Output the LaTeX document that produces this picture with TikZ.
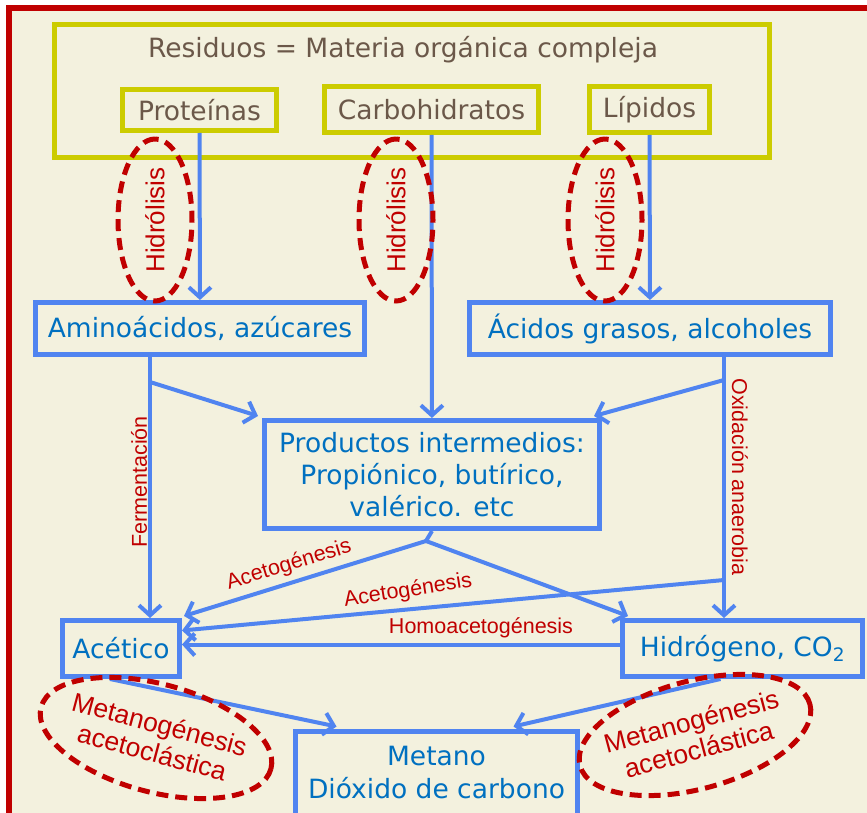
\documentclass[tikz,border=0pt]{standalone}
\usepackage{fontspec}
\setmainfont{DejaVu Sans}
\newfontfamily\labelfont{Liberation Sans}
\usetikzlibrary{arrows.meta,shapes.geometric}
\definecolor{fondo}{HTML}{F3F1DE}
\definecolor{marco}{HTML}{C00000}
\definecolor{oliva}{HTML}{CCCC00}
\definecolor{marron}{HTML}{6B5849}
\definecolor{azul}{HTML}{5084F0}
\definecolor{azultexto}{HTML}{0070C0}
\definecolor{rojo}{HTML}{C00000}
\tikzset{
  olivebox/.style={draw=oliva,line width=5pt,inner sep=0pt,text=marron,font=\fontsize{26.5}{30}\selectfont},
  procbox/.style={draw=azul,line width=5pt,inner sep=0pt,text=azultexto,align=center,font=\fontsize{26.5}{32}\selectfont},
  flow/.style={draw=azul,line width=4pt,-{Straight Barb[length=10pt,width=22pt,line width=4pt]}},
  phase/.style={text=rojo,font=\labelfont\fontsize{21.5}{24}\selectfont,inner sep=0pt},
  hidro/.style={ellipse,draw=rojo,line width=5pt,dash pattern=on 12pt off 7pt,text=rojo,
    font=\labelfont\fontsize{26}{30}\selectfont,inner sep=0pt,minimum width=162pt,minimum height=74pt,rotate=90},
  metano/.style={ellipse,draw=rojo,line width=5pt,dash pattern=on 12pt off 7pt,text=rojo,align=center,
    font=\labelfont\fontsize{26.5}{29}\selectfont,inner xsep=-16pt,inner ysep=-4pt,minimum width=238pt,minimum height=108pt}
}
\begin{document}
\begin{tikzpicture}[x=1pt,y=-1pt]
  \useasboundingbox (0,0) rectangle (867,813);
  \clip (0,0) rectangle (867,813);
  \fill[white] (0,0) rectangle (867,813);
  \fill[fondo] (9,8) rectangle (900,900);
  \draw[marco,line width=6pt] (9,8) rectangle (900,900);
  % residuos
  \node[olivebox,minimum width=715pt,minimum height=133pt] (res) at (412,91) {};
  \node[text=marron,font=\fontsize{26.5}{30}\selectfont] (restit) at (403,50) {Residuos = Materia orgánica compleja};
  \node[olivebox,minimum width=154pt,minimum height=41pt] (prot) at (199.5,110) {Proteínas};
  \node[olivebox,minimum width=214pt,minimum height=46pt] (carbo) at (431.5,109.5) {Carbohidratos};
  \node[olivebox,minimum width=120pt,minimum height=46pt] (lip) at (649.5,109.5) {Lípidos};
  % productos
  \node[procbox,minimum width=329pt,minimum height=52pt] (amino) at (200,328.5) {Aminoácidos, azúcares};
  \node[procbox,minimum width=361pt,minimum height=52pt] (acid) at (650,328.5) {Ácidos grasos, alcoholes};
  \node[procbox,minimum width=335pt,minimum height=108pt] (prod) at (432,474.5) {Productos intermedios:\\Propiónico, butírico,\\valérico. etc};
  \node[procbox,minimum width=117pt,minimum height=56pt] (acet) at (121,648.5) {Acético};
  \node[procbox,minimum width=240pt,minimum height=56pt] (hidro) at (742.5,648.5) {Hidrógeno, CO\textsubscript{2}};
  \node[procbox,minimum width=282pt,minimum height=84pt,font=\fontsize{26.5}{33}\selectfont] (met) at (436.5,773) {Metano\\Dióxido de carbono};
  % conexiones
  \coordinate (fa) at (150,382);
  \coordinate (ob) at (724,380);
  \coordinate (pa) at (426,541);
  \coordinate (ac) at (724,580);
  \draw[flow] (prot) -- (amino);
  \draw[flow] (carbo) -- (prod);
  \draw[flow] (lip) -- (acid);
  \draw[flow] (fa |- amino.south) -- (fa |- acet.north);
  \draw[flow] (fa) -- ([xshift=-4pt,yshift=2pt]prod.north west);
  \draw[flow] (ob |- acid.south) -- (ob |- hidro.north);
  \draw[flow] (ob) -- ([xshift=-8pt,yshift=2pt]prod.north east);
  \draw[draw=azul,line width=4pt] (prod.south) -- (pa);
  \draw[flow] (pa) -- ([xshift=2pt,yshift=2pt]acet.north east);
  \draw[flow] (pa) -- ([xshift=8pt,yshift=2pt]hidro.north west);
  \draw[flow] (ac) -- ([yshift=18pt]acet.east);
  \draw[flow] ([yshift=4pt]hidro.west) -- ([yshift=4pt]acet.east);
  \draw[flow] ([xshift=-11pt]acet.south) -- ([xshift=-100pt,yshift=2pt]met.north);
  \draw[flow] ([xshift=-22pt]hidro.south) -- ([xshift=77pt,yshift=2pt]met.north);
  % etiquetas
  \node[phase,rotate=90] (ferm) at (139,482) {Fermentación};
  \node[phase,rotate=-90] (oxid) at (740,477) {Oxidación anaerobia};
  \node[phase,rotate=17] (acg1) at (289,565) {Acetogénesis};
  \node[phase,rotate=9] (acg2) at (408,591) {Acetogénesis};
  \node[phase] (homo) at (481,628) {Homoacetogénesis};
  \node[hidro] (h1) at (155,220) {Hidrólisis};
  \node[hidro] (h2) at (396,220) {Hidrólisis};
  \node[hidro] (h3) at (605,220) {Hidrólisis};
  \node[metano,rotate=-15] (m1) at (156,738) {Metanogénesis\\acetoclástica};
  \node[metano,rotate=15] (m2) at (695,735) {Metanogénesis\\acetoclástica};
\end{tikzpicture}
\end{document}
